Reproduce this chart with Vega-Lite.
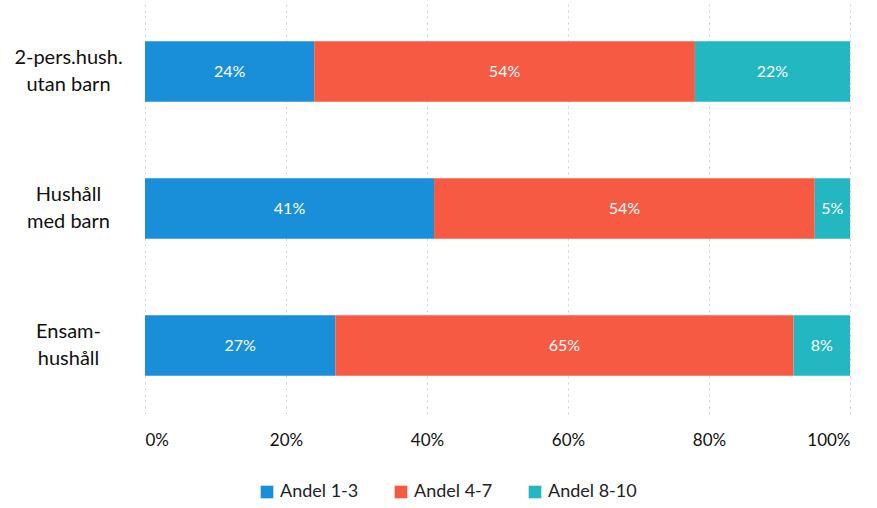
{
  "$schema": "https://vega.github.io/schema/vega-lite/v6.json",
  "width": 705,
  "height": 411,
  "autosize": {"type": "none"},
  "padding": {"left": 145, "top": 3, "right": 27, "bottom": 94},
  "background": "white",
  "config": {
    "view": {"stroke": null},
    "font": "Lato"
  },
  "data": {
    "values": [
      {"cat": "2-pers.hush.|utan barn", "grp": "Andel 1-3", "ord": 1, "value": 24},
      {"cat": "2-pers.hush.|utan barn", "grp": "Andel 4-7", "ord": 2, "value": 54},
      {"cat": "2-pers.hush.|utan barn", "grp": "Andel 8-10", "ord": 3, "value": 22},
      {"cat": "Hushåll|med barn", "grp": "Andel 1-3", "ord": 1, "value": 41},
      {"cat": "Hushåll|med barn", "grp": "Andel 4-7", "ord": 2, "value": 54},
      {"cat": "Hushåll|med barn", "grp": "Andel 8-10", "ord": 3, "value": 5},
      {"cat": "Ensam-|hushåll", "grp": "Andel 1-3", "ord": 1, "value": 27},
      {"cat": "Ensam-|hushåll", "grp": "Andel 4-7", "ord": 2, "value": 65},
      {"cat": "Ensam-|hushåll", "grp": "Andel 8-10", "ord": 3, "value": 8}
    ]
  },
  "transform": [
    {"stack": "value", "groupby": ["cat"], "sort": [{"field": "ord", "order": "ascending"}], "as": ["v0", "v1"]},
    {"calculate": "(datum.v0 + datum.v1) / 2", "as": "mid"},
    {"calculate": "datum.value + '%'", "as": "pct"}
  ],
  "encoding": {
    "y": {
      "field": "cat",
      "type": "nominal",
      "sort": ["2-pers.hush.|utan barn", "Hushåll|med barn", "Ensam-|hushåll"],
      "scale": {"paddingInner": 0.56, "paddingOuter": 0.28},
      "axis": {
        "title": null,
        "domain": false,
        "ticks": false,
        "labelExpr": "split(datum.label, '|')",
        "labelAlign": "center",
        "labelPadding": 77,
        "labelOffset": -14,
        "labelFontSize": 20,
        "labelColor": "#111111",
        "labelLineHeight": 27
      }
    }
  },
  "layer": [
    {
      "mark": {"type": "bar"},
      "encoding": {
        "x": {
          "field": "v0",
          "type": "quantitative",
          "scale": {"domain": [0, 100]},
          "axis": {
            "title": null,
            "values": [0, 20, 40, 60, 80, 100],
            "labelExpr": "datum.value + '%'",
            "domain": false,
            "ticks": false,
            "grid": true,
            "gridColor": "#d0d0d0",
            "gridDash": [2, 4],
            "labelFontSize": 17,
            "labelColor": "#111111",
            "labelPadding": 18
          }
        },
        "x2": {"field": "v1"},
        "color": {
          "field": "grp",
          "type": "nominal",
          "scale": {"domain": ["Andel 1-3", "Andel 4-7", "Andel 8-10"], "range": ["#1a8fd9", "#f65a42", "#23b7c2"]},
          "legend": {
            "title": null,
            "orient": "none",
            "legendX": 113,
            "legendY": 480,
            "direction": "horizontal",
            "symbolType": "square",
            "symbolSize": 160,
            "labelFontSize": 18,
            "labelColor": "#222222",
            "columnPadding": 33
          }
        }
      }
    },
    {
      "mark": {"type": "text", "color": "white", "fontSize": 16},
      "encoding": {
        "x": {"field": "mid", "type": "quantitative"},
        "text": {"field": "pct", "type": "nominal"}
      }
    }
  ]
}
